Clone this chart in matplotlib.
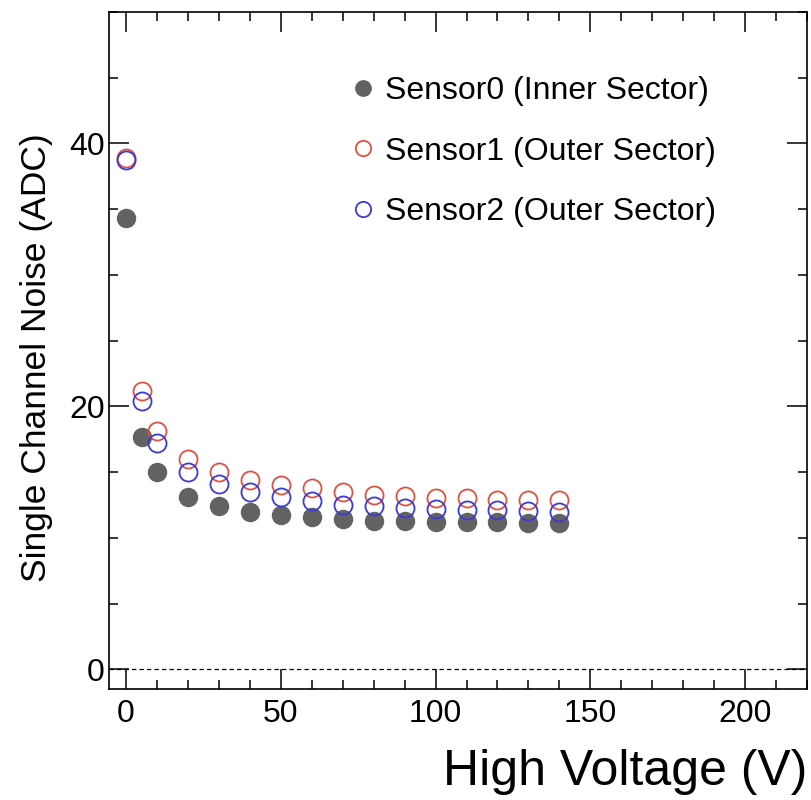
import matplotlib
matplotlib.use("Agg")
import matplotlib.pyplot as plt
from matplotlib.ticker import MultipleLocator

plt.rcParams['font.family'] = ['Liberation Sans', 'DejaVu Sans']

voltage = [0, 5, 10, 20, 30, 40, 50, 60, 70, 80, 90, 100, 110, 120, 130, 140]
sensor0 = [34.3, 17.7, 15.0, 13.1, 12.4, 12.0, 11.7, 11.55, 11.45, 11.3, 11.27, 11.2, 11.2, 11.2, 11.15, 11.15]
sensor1 = [38.9, 21.2, 18.1, 16.0, 15.0, 14.4, 14.05, 13.8, 13.5, 13.27, 13.15, 13.05, 13.0, 12.9, 12.9, 12.9]
sensor2 = [38.75, 20.4, 17.2, 15.0, 14.1, 13.5, 13.1, 12.8, 12.5, 12.43, 12.3, 12.2, 12.15, 12.1, 12.05, 12.0]

labels = ["Sensor0 (Inner Sector)", "Sensor1 (Outer Sector)", "Sensor2 (Outer Sector)"]
xlabel = "High Voltage (V)"
ylabel = "Single Channel Noise (ADC)"

fig = plt.figure(figsize=(8.11, 8.0), dpi=100)
ax = fig.add_axes([109/811, (800-689)/800, (807-109)/811, (689-12)/800])

c_gray = "#626262"
c_red = "#e2503f"
c_blue = "#3a3ad6"

ax.axhline(0, color="black", lw=0.9, ls=(0, (3.5, 2.5)), zorder=1)

ax.plot(voltage, sensor0, ls="none", marker="o", ms=13, mfc=c_gray, mec=c_gray, label=labels[0], zorder=3)
ax.plot(voltage, sensor1, ls="none", marker="o", ms=13, mfc="none", mec=c_red, mew=1.3, label=labels[1], zorder=4)
ax.plot(voltage, sensor2, ls="none", marker="o", ms=13, mfc="none", mec=c_blue, mew=1.3, label=labels[2], zorder=5)

ax.set_xlim(-5.5, 220)
ax.set_ylim(-1.5, 50)
ax.xaxis.set_major_locator(MultipleLocator(50))
ax.xaxis.set_minor_locator(MultipleLocator(10))
ax.yaxis.set_major_locator(MultipleLocator(20))
ax.yaxis.set_minor_locator(MultipleLocator(5))
ax.tick_params(which="both", direction="in", top=True, right=True, width=1.1, labelsize=23)
ax.tick_params(which="major", length=14.5)
ax.tick_params(which="minor", length=6.5)
ax.tick_params(axis="x", pad=7)
ax.tick_params(axis="y", pad=3)
for s in ax.spines.values():
    s.set_linewidth(1.2)

ax.set_ylabel(ylabel, fontsize=25.5)
ax.yaxis.set_label_coords(-0.08, 0.49)
ax.set_xlabel(xlabel, fontsize=36)
ax.xaxis.set_label_coords(1.0, -0.088)
ax.xaxis.label.set_horizontalalignment("right")

leg = ax.legend(loc="upper left", bbox_to_anchor=(0.35, 0.905), frameon=False, fontsize=23,
                handlelength=0.6, handletextpad=0.4, labelspacing=0.95, borderpad=0,
                borderaxespad=0, markerscale=0.85)

fig.savefig("out.png", dpi=100)
